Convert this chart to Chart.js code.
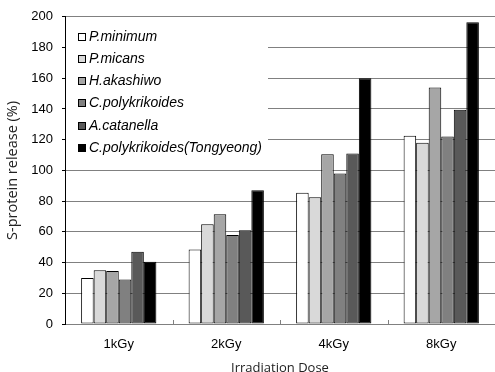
<!DOCTYPE html>
<html>
<head>
<meta charset="utf-8">
<script src="https://cdn.jsdelivr.net/npm/chart.js@4.4.1/dist/chart.umd.min.js"></script>
<style>
html,body{margin:0;padding:0;background:#fff;}
#wrap{width:495px;height:372px;position:relative;}
</style>
</head>
<body>
<div id="wrap"><canvas id="c" width="495" height="372"></canvas></div>
<script>
const categories = ["1kGy", "2kGy", "4kGy", "8kGy"];
const seriesNames = ["P.minimum", "P.micans", "H.akashiwo", "C.polykrikoides", "A.catanella", "C.polykrikoides(Tongyeong)"];
const pMinimum = [30, 48.5, 85.5, 122.5];
const pMicans = [35, 65, 82.5, 118];
const hAkashiwo = [34.5, 71.5, 110.5, 154];
const cPolykrikoides = [29, 58, 98, 122];
const aCatanella = [47, 61, 111, 139.5];
const cPolyTongyeong = [40.5, 87, 160, 196.5];
const yTicks = [0, 20, 40, 60, 80, 100, 120, 140, 160, 180, 200];
const seriesValues = [pMinimum, pMicans, hAkashiwo, cPolykrikoides, aCatanella, cPolyTongyeong];
const fills = ["#ffffff", "#d9d9d9", "#a6a6a6", "#808080", "#595959", "#000000"];

const legendPlugin = {
  id: 'insideLegend',
  beforeDatasetsDraw(chart) {
    const ctx = chart.ctx, a = chart.chartArea;
    ctx.save();
    ctx.fillStyle = '#fff';
    ctx.fillRect(a.left + 1, a.top + 2, 202, 151);
    ctx.font = 'italic 14px "Liberation Sans", Arial, sans-serif';
    ctx.textBaseline = 'middle';
    chart.data.datasets.forEach((ds, i) => {
      const y = Math.round(a.top + 20 + i * 22.2);
      ctx.fillStyle = ds.backgroundColor;
      ctx.fillRect(a.left + 13.5, y - 3.5, 7, 7);
      ctx.strokeStyle = '#000';
      ctx.lineWidth = 1;
      ctx.strokeRect(a.left + 13.5, y - 3.5, 7, 7);
      ctx.fillStyle = '#000';
      ctx.fillText(ds.label, a.left + 24, y + 0.5);
    });
    ctx.restore();
  },
  afterDraw(chart) {
    const ctx = chart.ctx, x = chart.scales.x, a = chart.chartArea;
    ctx.save();
    ctx.strokeStyle = '#808080';
    ctx.lineWidth = 1;
    for (let i = 1; i < categories.length; i++) {
      const px = Math.round((x.getPixelForValue(i - 1) + x.getPixelForValue(i)) / 2) + 0.5;
      ctx.beginPath();
      ctx.moveTo(px, a.bottom);
      ctx.lineTo(px, a.bottom - 4);
      ctx.stroke();
    }
    ctx.restore();
  }
};

new Chart(document.getElementById('c'), {
  type: 'bar',
  data: {
    labels: categories,
    datasets: seriesNames.map((n, i) => ({
      label: n,
      data: seriesValues[i],
      backgroundColor: fills[i],
      borderColor: '#000',
      borderWidth: 1,
      borderSkipped: false,
      categoryPercentage: 0.7,
      barPercentage: 1.0
    }))
  },
  options: {
    responsive: false,
    animation: false,
    devicePixelRatio: 1,
    layout: { padding: { top: 16, right: 0, left: 0, bottom: 0 } },
    plugins: { legend: { display: false }, tooltip: { enabled: false } },
    scales: {
      x: {
        grid: { display: true, drawOnChartArea: false, drawTicks: false },
        border: { color: '#808080', width: 1 },
        ticks: { color: '#000', font: { family: '"Liberation Sans", Arial', size: 13 }, padding: 13 },
        title: { display: true, text: 'Irradiation Dose', color: '#222', font: { family: '"Open Sans", sans-serif', size: 13 }, padding: { top: 0, bottom: -4 } },
        afterFit(s) { s.height = 48; }
      },
      y: {
        min: 0, max: 200,
        afterBuildTicks(s) { s.ticks = yTicks.map(v => ({ value: v })); },
        grid: { color: '#808080', lineWidth: 1, tickLength: 3, tickColor: '#000' },
        border: { color: '#000', width: 1 },
        ticks: { color: '#000', font: { family: '"Liberation Sans", Arial', size: 13 }, padding: 9 },
        title: { display: true, text: 'S-protein release (%)', color: '#222', font: { family: '"Open Sans", sans-serif', size: 14.5 }, padding: { top: 4, bottom: 4 } },
        afterFit(s) { s.width = 65; }
      }
    }
  },
  plugins: [legendPlugin]
});
</script>
</body>
</html>
